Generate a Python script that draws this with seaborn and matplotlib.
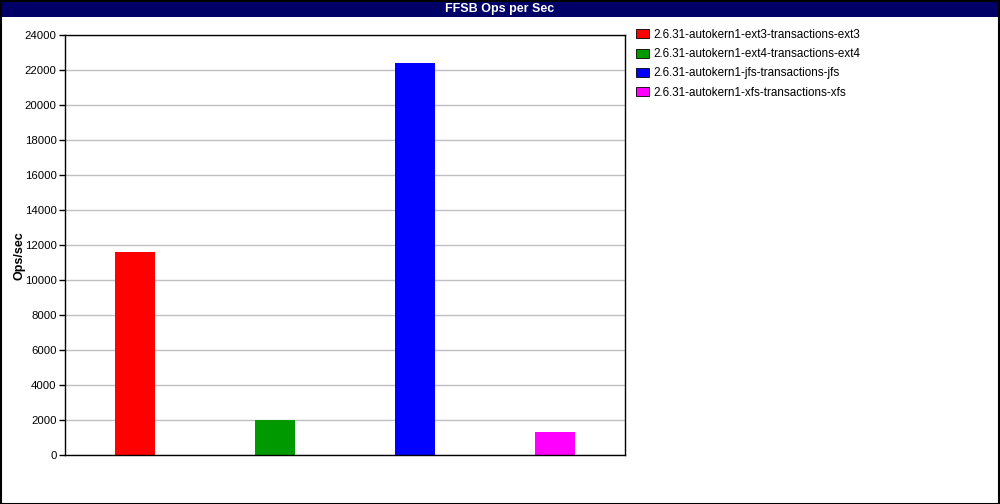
import matplotlib

matplotlib.use("Agg")
import matplotlib.pyplot as plt
import pandas as pd
import seaborn as sns
from matplotlib.patches import Patch, Rectangle

# --- Data ------------------------------------------------------------- #
configs = [
    "2.6.31-autokern1-ext3-transactions-ext3",
    "2.6.31-autokern1-ext4-transactions-ext4",
    "2.6.31-autokern1-jfs-transactions-jfs",
    "2.6.31-autokern1-xfs-transactions-xfs",
]
ops_per_sec = [11600, 2000, 22400, 1320]
colors = ["#ff0000", "#009900", "#0000ff", "#ff00ff"]
y_ticks = list(range(0, 24001, 2000))

TITLE = "FFSB Ops per Sec"
Y_LABEL = "Ops/sec"

df = pd.DataFrame({"config": configs, "ops": ops_per_sec})

sns.set_theme(style="white")
plt.rcParams["font.family"] = ["Liberation Sans", "DejaVu Sans"]
plt.rcParams["text.color"] = "black"
plt.rcParams["axes.labelcolor"] = "black"
plt.rcParams["ytick.color"] = "black"

W, H = 1000, 504
fig = plt.figure(figsize=(W / 100, H / 100), dpi=100)
fig.patch.set_facecolor("white")

# plot area in pixels: x 65..625, y 35..455
ax = fig.add_axes([65 / W, 1 - 455 / H, 560 / W, 420 / H])

sns.barplot(
    data=df,
    x="config",
    y="ops",
    hue="config",
    palette=colors,
    width=40 / 140,
    saturation=1,
    dodge=False,
    legend=False,
    linewidth=0,
    ax=ax,
)

ax.set_ylim(0, 24000)
ax.set_yticks(y_ticks)
ax.set_yticklabels([str(t) for t in y_ticks], fontsize=8.2)
ax.set_xticks([])
ax.set_xlabel("")
ax.set_ylabel(Y_LABEL, fontsize=9, fontweight="bold")
ax.yaxis.set_label_coords(-39 / 560, 199 / 420)
ax.yaxis.grid(True, color="#c0c0c0", linewidth=1)
ax.set_axisbelow(True)
ax.tick_params(axis="y", which="both", left=True, length=4, width=1, color="black", pad=2)
for spine in ax.spines.values():
    spine.set_color("black")
    spine.set_linewidth(1)

# --- Title bar -------------------------------------------------------- #
fig.patches.append(
    Rectangle((0, 1 - 17 / H), 1, 17 / H, transform=fig.transFigure,
              facecolor="#000066", edgecolor="none", zorder=0)
)
fig.text(0.5, 1 - 9 / H, TITLE, color="white", fontsize=9, fontweight="bold",
         ha="center", va="center")

# figure border
fig.patches.append(
    Rectangle((0.5 / W, 0.5 / H), 1 - 1.5 / W, 1 - 1.5 / H, transform=fig.transFigure,
              facecolor="none", edgecolor="black", linewidth=1.5, zorder=5)
)

# --- Legend ----------------------------------------------------------- #
handles = [Patch(facecolor=c, edgecolor="black", linewidth=0.6) for c in colors]
fig.legend(
    handles,
    configs,
    loc="upper left",
    bbox_to_anchor=(636 / W, 1 - 29 / H),
    frameon=False,
    fontsize=8.4,
    handlelength=1.1,
    handleheight=0.8,
    handletextpad=0.4,
    labelspacing=0.62,
    borderaxespad=0,
    borderpad=0,
)

fig.savefig("out.png", dpi=100)
